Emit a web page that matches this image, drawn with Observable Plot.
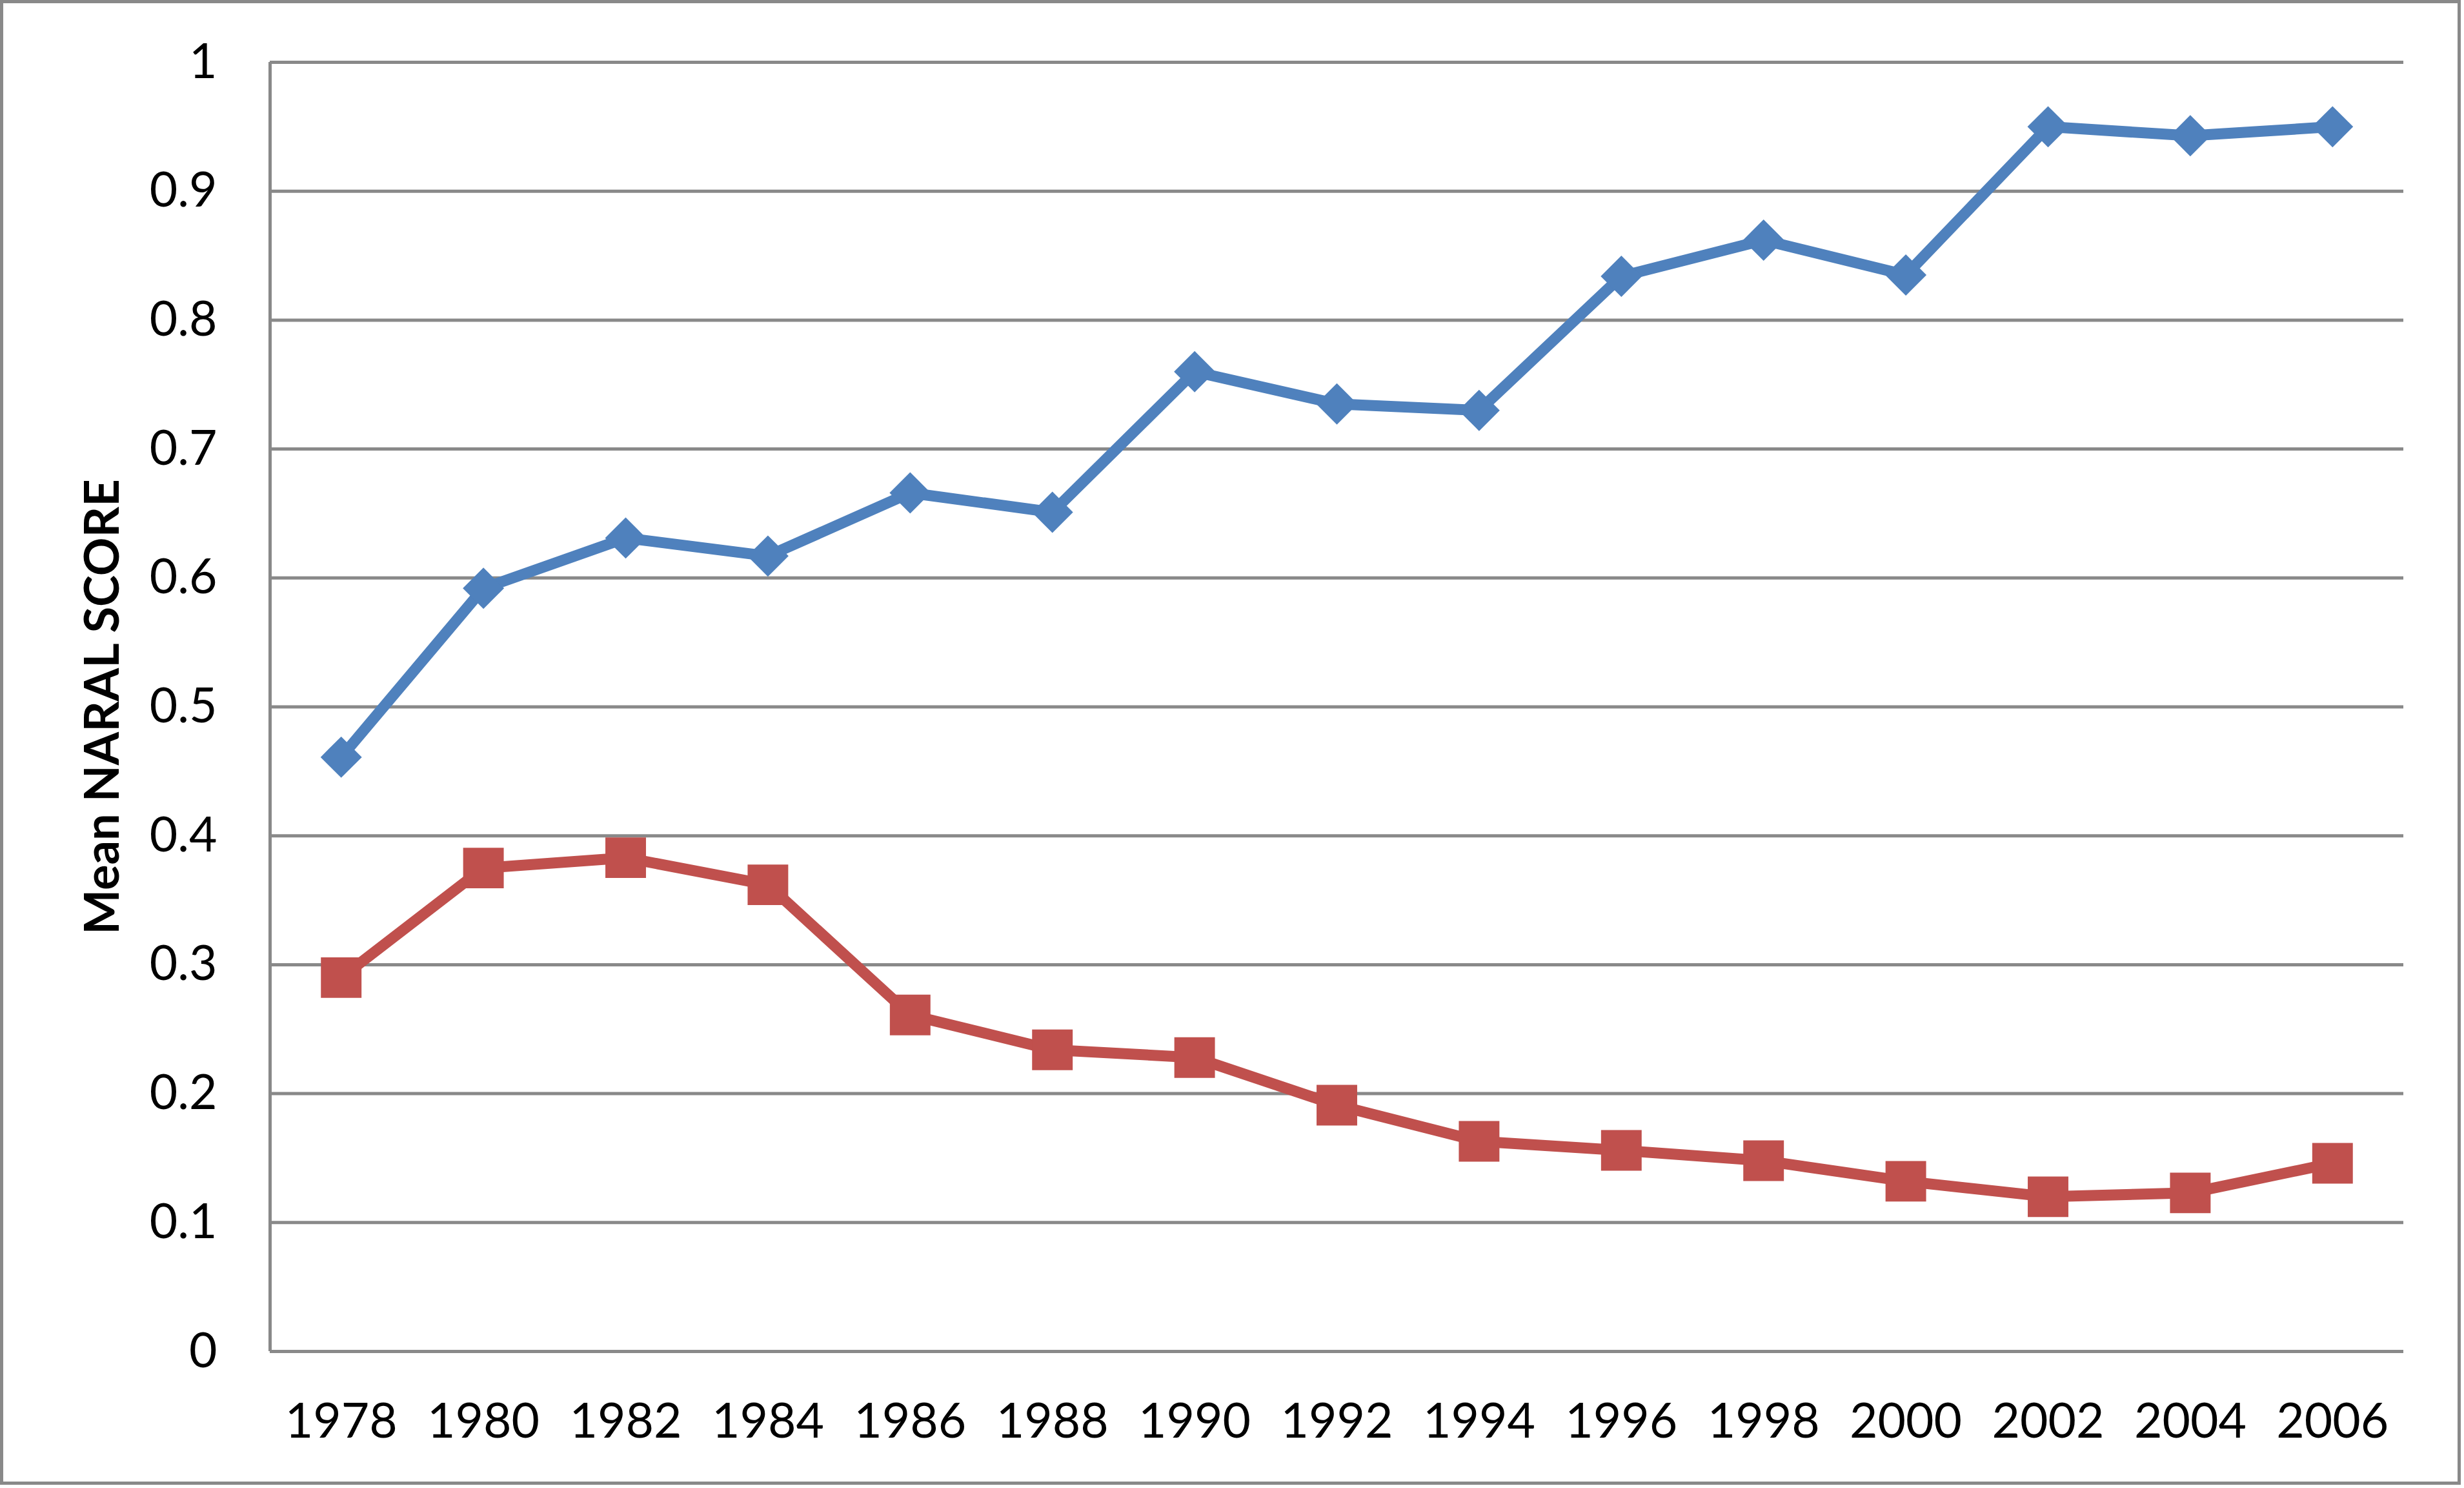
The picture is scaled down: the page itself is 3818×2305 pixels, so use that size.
<!DOCTYPE html>
<html>
<head>
<meta charset="utf-8">
<script src="https://cdn.jsdelivr.net/npm/d3@7"></script>
<script src="https://cdn.jsdelivr.net/npm/@observablehq/plot@0.6"></script>
<style>
  html, body { margin: 0; padding: 0; background: #ffffff; }
  #wrap { position: relative; width: 3818px; height: 2305px; overflow: hidden; background: #ffffff; }
  #chart { position: absolute; left: 0; top: 0; }
  #border { position: absolute; left: 0; top: 0; width: 3813px; height: 2300px; box-sizing: border-box; border: 5px solid #898989; pointer-events: none; }
</style>
</head>
<body>
<div id="wrap"><div id="chart"></div><div id="border"></div></div>
<script>
// ---- data ----
const years = [1978, 1980, 1982, 1984, 1986, 1988, 1990, 1992, 1994, 1996, 1998, 2000, 2002, 2004, 2006];
const blueScores = [0.461, 0.592, 0.631, 0.617, 0.666, 0.651, 0.760, 0.735, 0.730, 0.834, 0.862, 0.835, 0.950, 0.943, 0.950];
const redScores  = [0.290, 0.375, 0.383, 0.362, 0.261, 0.234, 0.228, 0.191, 0.163, 0.156, 0.148, 0.132, 0.120, 0.123, 0.146];
const yTicks = [0, 0.1, 0.2, 0.3, 0.4, 0.5, 0.6, 0.7, 0.8, 0.9, 1];
const yLabel = "Mean NARAL SCORE";

// ---- styles ----
const blue = "#4F81BD";
const red = "#C0504D";
const gridColor = "#898989";

const blueRows = years.map((year, i) => ({year, value: blueScores[i]}));
const redRows = years.map((year, i) => ({year, value: redScores[i]}));
const xDomain = [years[0] - 1, years[years.length - 1] + 1];

const chart = Plot.plot({
  width: 3818,
  height: 2305,
  marginLeft: 418,
  marginRight: 94,
  marginTop: 96,
  marginBottom: 212,
  style: {fontFamily: "Lato, 'Open Sans', sans-serif", fontSize: "75px", color: "#000000", background: "#ffffff"},
  x: {type: "linear", domain: xDomain},
  y: {type: "linear", domain: [0, 1]},
  marks: [
    Plot.gridY(yTicks, {stroke: gridColor, strokeOpacity: 1, strokeWidth: 5}),
    Plot.ruleX([xDomain[0]], {stroke: gridColor, strokeWidth: 5}),
    Plot.axisY(yTicks, {anchor: "left", tickSize: 0, tickPadding: 82, tickFormat: d3.format("~g"), label: null, fontSize: 75, fill: "#000000"}),
    Plot.axisX(years, {anchor: "bottom", tickSize: 0, tickPadding: 80, tickFormat: d => String(d), label: null, fontSize: 75, fill: "#000000"}),
    Plot.text([yLabel], {text: d => d, frameAnchor: "left", textAnchor: "middle", lineAnchor: "middle", dx: -258, rotate: -90, fontWeight: "bold", fontSize: 74, fill: "#000000"}),
    Plot.line(blueRows, {x: "year", y: "value", stroke: blue, strokeWidth: 17, strokeLinejoin: "round"}),
    Plot.dot(blueRows, {x: "year", y: "value", symbol: "diamond2", r: 28.8, fill: blue}),
    Plot.line(redRows, {x: "year", y: "value", stroke: red, strokeWidth: 17, strokeLinejoin: "round"}),
    Plot.dot(redRows, {x: "year", y: "value", symbol: "square", r: 35.5, fill: red})
  ]
});
document.getElementById("chart").appendChild(chart);
</script>
</body>
</html>
